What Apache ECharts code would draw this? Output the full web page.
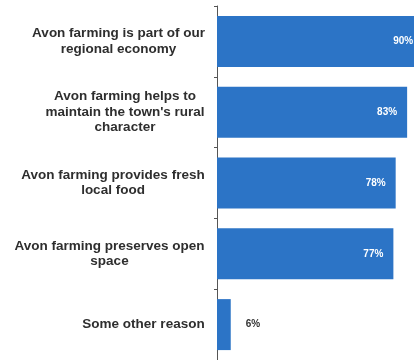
<!DOCTYPE html>
<html>
<head>
<meta charset="utf-8">
<script src="https://cdn.jsdelivr.net/npm/echarts@6/dist/echarts.min.js"></script>
<style>html,body{margin:0;padding:0;background:#fff;}#c{width:414px;height:360px;}</style>
</head>
<body>
<div id="c"></div>
<script>
const categories = [
  "Avon farming is part of our\nregional economy",
  "Avon farming helps to\nmaintain the town's rural\ncharacter",
  "Avon farming provides fresh\nlocal food",
  "Avon farming preserves open\nspace",
  "Some other reason"
];
const values = [90, 83, 78, 77, 6];

const LABEL_FONT = "bold 13.5px 'Liberation Sans', Arial, sans-serif";
const ctx = document.createElement('canvas').getContext('2d');
ctx.font = LABEL_FONT;
const rich = {};
categories.forEach((c, i) => {
  const w = Math.max(...c.split('\n').map(l => ctx.measureText(l).width));
  rich['c' + i] = {width: Math.ceil(w), align: 'center', fontFamily: "'Liberation Sans', Arial, sans-serif",
    fontWeight: 'bold', fontSize: 13.5, lineHeight: 15.5, color: '#2e2e2e'};
});

const chart = echarts.init(document.getElementById('c'), null, {renderer: 'canvas'});
chart.setOption({
  animation: false,
  backgroundColor: '#fff',
  grid: {left: 217, top: 6, right: 0, height: 355, containLabel: false},
  xAxis: {type: 'value', min: 0, max: 86, show: false},
  yAxis: {
    type: 'category', data: categories, inverse: true,
    axisLine: {lineStyle: {color: '#555', width: 1}},
    axisTick: {show: true, length: 3, lineStyle: {color: '#555'}},
    axisLabel: {
      margin: 12,
      formatter: (v, i) => '{c' + i + '|' + v + '}',
      rich: rich
    }
  },
  series: [{
    type: 'bar',
    clip: false,
    data: values.map((v, i) => ({
      value: v,
      label: i === values.length - 1 ? {position: 'right', distance: 15, color: '#333'} : undefined
    })),
    barCategoryGap: '28%',
    itemStyle: {color: '#2c74c6'},
    label: {
      show: true, position: 'insideRight', distance: 10,
      formatter: '{c}%', color: '#fff', fontWeight: 'bold', fontSize: 10,
      fontFamily: "'Liberation Sans', Arial, sans-serif"
    }
  }]
});
</script>
</body>
</html>
